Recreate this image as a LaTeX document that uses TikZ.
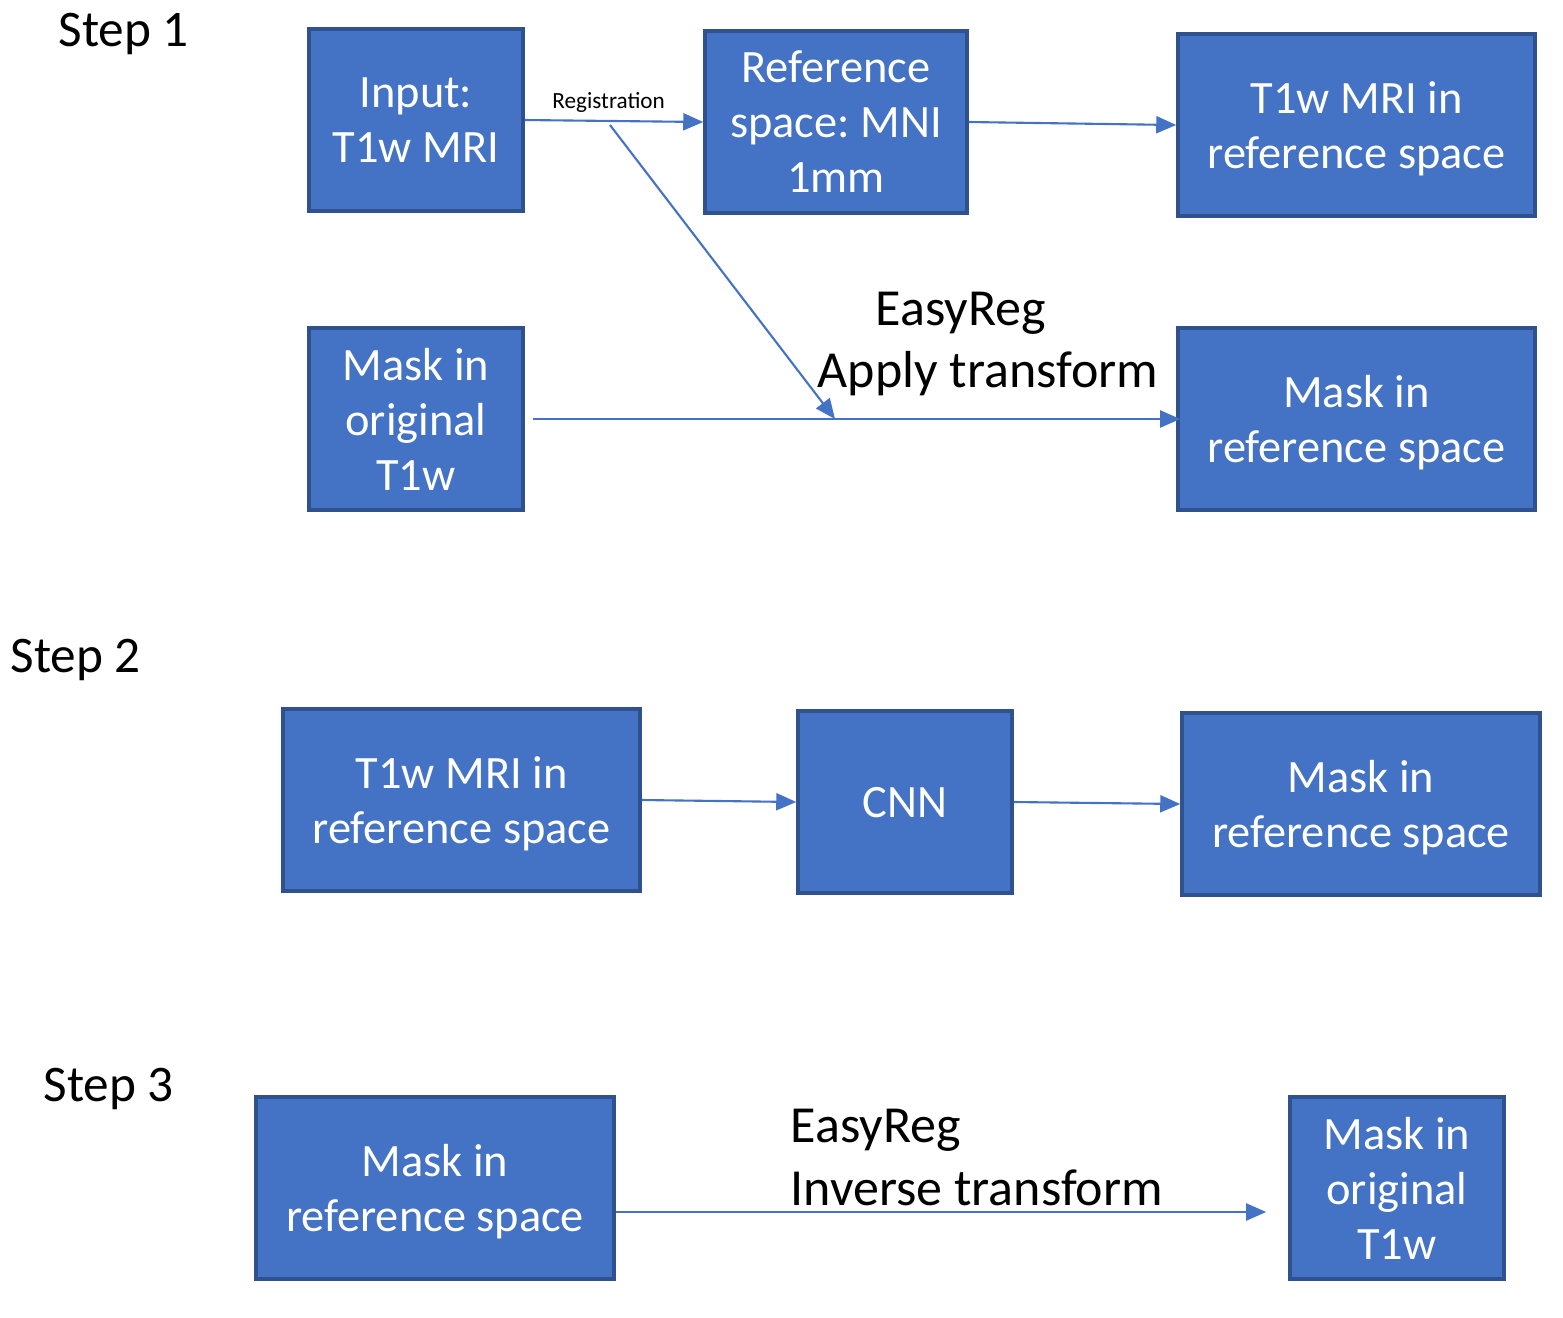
\documentclass[tikz,border=0pt]{standalone}
\usepackage{fontspec}
\setmainfont{Carlito}
\frenchspacing
\usetikzlibrary{arrows.meta}
\definecolor{boxfill}{HTML}{4472C4}
\definecolor{boxline}{HTML}{2F528F}
\tikzset{
    box/.style={draw=boxline, line width=1pt, fill=boxfill, text=white, align=center,
        inner sep=0pt, minimum height=1.82cm, text depth=-0.09cm,
        font=\fontsize{13.2}{15.65}\selectfont},
    conn/.style={draw=boxfill, line width=0.6pt, -{Triangle[length=0.2cm,width=0.17cm]}},
    steplbl/.style={font=\fontsize{14.6}{17}\selectfont, anchor=west, inner sep=0pt},
    easylbl/.style={font=\fontsize{14.8}{17}\selectfont, anchor=west, inner sep=0pt}
}
\begin{document}
\begin{tikzpicture}
        \useasboundingbox (0,0) rectangle (15.63,-13.18);
        % step 1
        \node[steplbl] (s1) at (0.58,-0.34) {Step 1};
        \node[box, minimum width=2.14cm] (inp) at (4.16,-1.20) {Input:\\T1w MRI};
        \node[box, minimum width=2.62cm] (mni) at (8.36,-1.22) {Reference\\space: MNI\\1mm};
        \node[box, minimum width=3.57cm] (t1ref) at (13.565,-1.25) {T1w MRI in\\reference space};
        \node[box, minimum width=2.14cm] (mskorig) at (4.16,-4.19) {Mask in\\original\\T1w};
        \node[box, minimum width=3.57cm] (mskref) at (13.565,-4.19) {Mask in\\reference space};
        \draw[conn] (inp.east) -- node[above, font=\fontsize{6.6}{8}\selectfont, inner sep=2pt, pos=0.47] (reglbl) {Registration} (mni.west);
        \draw[conn] (mni.east) -- (t1ref.west);
        \coordinate (regsplit) at (6.10,-1.25);
        \coordinate (applyhit) at (8.35,-4.19);
        \draw[conn, shorten <=0.08cm] (mskorig.east) -- ([xshift=0.04cm]mskref.west);
        \draw[conn] (regsplit) -- (applyhit);
        \node[easylbl] (easy1) at (8.75,-3.13) {EasyReg};
        \node[easylbl] (apply1) at (8.17,-3.74) {Apply transform};
        % step 2
        \node[steplbl] (s2) at (0.10,-6.60) {Step 2};
        \node[box, minimum width=3.57cm] (t1ref2) at (4.615,-8.00) {T1w MRI in\\reference space};
        \node[box, minimum width=2.14cm] (cnn) at (9.05,-8.02) {CNN};
        \node[box, minimum width=3.58cm] (mskref2) at (13.61,-8.04) {Mask in\\reference space};
        \draw[conn] (t1ref2.east) -- (cnn.west);
        \draw[conn] (cnn.east) -- (mskref2.west);
        % step 3
        \node[steplbl] (s3) at (0.43,-10.89) {Step 3};
        \node[box, minimum width=3.58cm] (mskref3) at (4.35,-11.88) {Mask in\\reference space};
        \node[box, minimum width=2.14cm] (mskorig3) at (13.97,-11.88) {Mask in\\original\\T1w};
        \draw[conn, shorten >=0.22cm] ([yshift=-0.24cm]mskref3.east) -- ([yshift=-0.24cm]mskorig3.west);
        \node[easylbl] (easy3) at (7.90,-11.30) {EasyReg};
        \node[easylbl] (inv3) at (7.90,-11.88) {Inverse transform};
    \end{tikzpicture}
\end{document}
